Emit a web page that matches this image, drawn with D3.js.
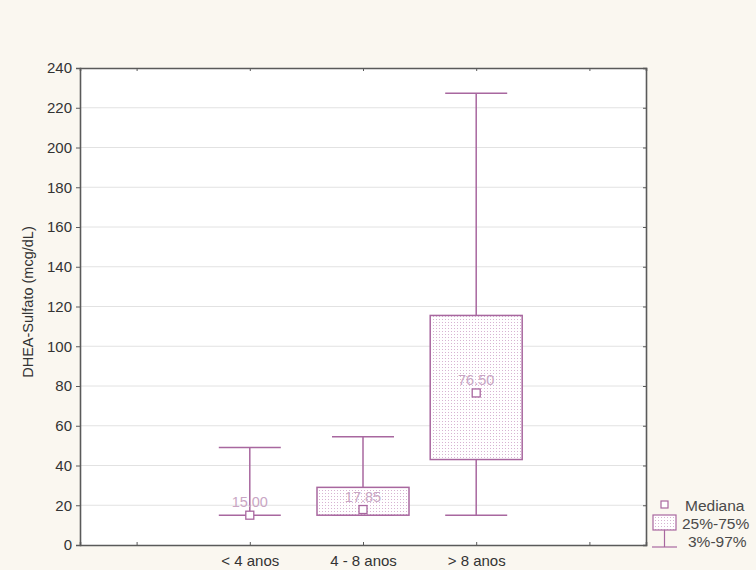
<!DOCTYPE html>
<html>
<head>
<meta charset="utf-8">
<script src="https://cdn.jsdelivr.net/npm/d3@7"></script>
<style>
  body { margin: 0; background: #faf7f0; }
  svg { display: block; font-family: Arial, "Liberation Sans", sans-serif; }
</style>
</head>
<body>
<script>
// categories (outer slots are empty, as in the original plot)
const slots = [0, 1, 2, 3, 4];
const slotLabels = ["", "< 4 anos", "4 - 8 anos", "> 8 anos", ""];
const groupSlot = [1, 2, 3];
const medians = [15.00, 17.85, 76.50];
const q1 = [15, 15, 43];
const q3 = [15, 29, 115.5];
const p3 = [15, 15, 15];
const p97 = [49, 54.5, 227.3];
const medianText = ["15.00", "17.85", "76.50"];
const yTicks = [0, 20, 40, 60, 80, 100, 120, 140, 160, 180, 200, 220, 240];

const width = 756, height = 570;
const margin = { left: 80, right: 110, top: 68, bottom: 25 };
const purple = "#a8679f";
const axisCol = "#5a5a5a";

const svg = d3.select("body").append("svg")
  .attr("width", width).attr("height", height);

const defs = svg.append("defs");
const pat = defs.append("pattern").attr("id", "dots")
  .attr("width", 3).attr("height", 3).attr("patternUnits", "userSpaceOnUse");
pat.append("rect").attr("width", 3).attr("height", 3).attr("fill", "#fff");
pat.append("rect").attr("x", 1).attr("y", 1).attr("width", 1).attr("height", 1).attr("fill", "#d7b3d2");

const x = d3.scalePoint().domain(slots)
  .range([margin.left, width - margin.right]).padding(0.5);
const y = d3.scaleLinear().domain([0, 240])
  .range([height - margin.bottom, margin.top]);

const x0 = margin.left, x1 = width - margin.right;
const y0 = height - margin.bottom, y1 = margin.top;

// plot background
svg.append("rect").attr("x", x0).attr("y", y1)
  .attr("width", x1 - x0).attr("height", y0 - y1).attr("fill", "#fff");

// grid
svg.append("g").selectAll("line").data(yTicks.slice(1, -1)).join("line")
  .attr("x1", x0).attr("x2", x1)
  .attr("y1", d => y(d)).attr("y2", d => y(d))
  .attr("stroke", "#e2e2e2").attr("stroke-width", 1);

// axes
const leftAxis = svg.append("g").attr("transform", `translate(${x0},0)`)
  .call(d3.axisLeft(y).tickValues(yTicks).tickSize(4).tickPadding(4));
leftAxis.selectAll("text").attr("font-size", 15).attr("fill", "#333");

svg.append("g").attr("transform", `translate(${x1},0)`)
  .call(d3.axisLeft(y).tickValues(yTicks).tickSize(3).tickFormat(""));

svg.append("g").attr("transform", `translate(0,${y0})`)
  .call(d3.axisTop(x).tickSize(3).tickFormat(""));
svg.append("g").attr("transform", `translate(0,${y0})`)
  .call(d3.axisBottom(x).tickSize(0).tickPadding(10).tickFormat(i => slotLabels[i]))
  .call(g => g.select(".domain").remove())
  .selectAll("text").attr("font-size", 15).attr("fill", "#333");

svg.append("g").attr("transform", `translate(0,${y1})`)
  .call(d3.axisBottom(x).tickSize(3).tickFormat(""));

svg.selectAll(".domain").attr("stroke", axisCol).attr("stroke-width", 1.6);
svg.selectAll(".tick line").attr("stroke", axisCol);

// y label
svg.append("text")
  .attr("transform", `translate(33,302) rotate(-90)`)
  .attr("text-anchor", "middle").attr("font-size", 14.5).attr("fill", "#333")
  .text("DHEA-Sulfato (mcg/dL)");

// boxes
const boxW = 92, capW = 62, medS = 8;
const g = svg.append("g").selectAll("g").data(groupSlot).join("g");

g.append("line")
  .attr("x1", (d) => x(d)).attr("x2", (d) => x(d))
  .attr("y1", (d, i) => y(p97[i])).attr("y2", (d, i) => y(p3[i]))
  .attr("stroke", purple).attr("stroke-width", 1.5);
g.append("line").attr("class", "capHi")
  .attr("x1", d => x(d) - capW / 2).attr("x2", d => x(d) + capW / 2)
  .attr("y1", (d, i) => y(p97[i])).attr("y2", (d, i) => y(p97[i]))
  .attr("stroke", purple).attr("stroke-width", 1.5);
g.append("line").attr("class", "capLo")
  .attr("x1", d => x(d) - capW / 2).attr("x2", d => x(d) + capW / 2)
  .attr("y1", (d, i) => y(p3[i])).attr("y2", (d, i) => y(p3[i]))
  .attr("stroke", purple).attr("stroke-width", 1.5);
g.append("rect")
  .attr("x", d => x(d) - boxW / 2).attr("width", boxW)
  .attr("y", (d, i) => y(q3[i])).attr("height", (d, i) => Math.max(0, y(q1[i]) - y(q3[i])))
  .attr("fill", "url(#dots)").attr("stroke", purple).attr("stroke-width", 1.5);
g.append("text")
  .attr("x", d => x(d)).attr("y", (d, i) => y(medians[i]) - 8)
  .attr("text-anchor", "middle").attr("font-size", 14.5).attr("fill", "#c9a6c4")
  .text((d, i) => medianText[i]);
g.append("rect")
  .attr("x", d => x(d) - medS / 2).attr("width", medS)
  .attr("y", (d, i) => y(medians[i]) - medS / 2).attr("height", medS)
  .attr("fill", "#fff").attr("stroke", purple).attr("stroke-width", 1.3);

// legend
const lg = svg.append("g");
lg.append("rect").attr("x", 661).attr("y", 501).attr("width", 7).attr("height", 7)
  .attr("fill", "#fff").attr("stroke", purple).attr("stroke-width", 1.2);
lg.append("rect").attr("x", 653).attr("y", 515).attr("width", 23).attr("height", 15)
  .attr("fill", "url(#dots)").attr("stroke", purple).attr("stroke-width", 1.2);
lg.append("line").attr("x1", 664.5).attr("x2", 664.5).attr("y1", 530).attr("y2", 547)
  .attr("stroke", purple).attr("stroke-width", 1.2);
lg.append("line").attr("x1", 652).attr("x2", 677).attr("y1", 547).attr("y2", 547)
  .attr("stroke", purple).attr("stroke-width", 1.2);
const legText = ["Mediana", "25%-75%", "3%-97%"];
lg.selectAll("text.leg").data(legText).join("text").attr("class", "leg")
  .attr("x", (d, i) => i === 2 ? 688 : (i === 0 ? 685 : 682))
  .attr("y", (d, i) => 511 + i * 17.8)
  .attr("font-size", 15.5).attr("fill", "#4a4a4a")
  .text(d => d);
</script>
</body>
</html>
